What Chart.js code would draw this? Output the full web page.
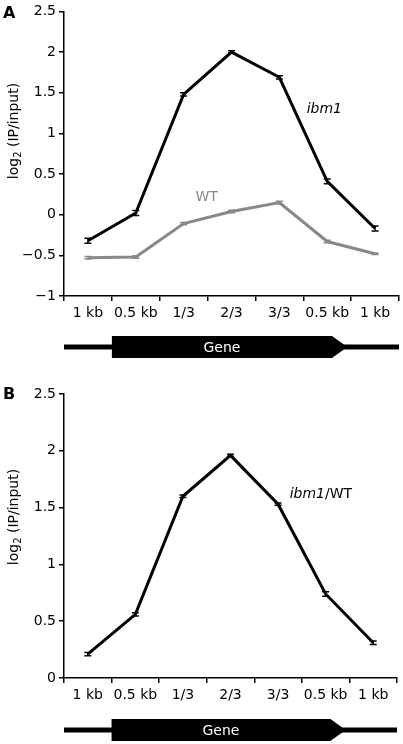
<!DOCTYPE html>
<html>
<head>
<meta charset="utf-8">
<script src="https://cdn.jsdelivr.net/npm/chart.js@4.4.0/dist/chart.umd.min.js"></script>
<style>
  html, body { margin: 0; padding: 0; background: #fff; }
  body { width: 403px; height: 744px; position: relative; overflow: hidden; }
  .panel { position: absolute; left: 0; width: 403px; height: 372px; }
  #pa { top: 0; }
  #pb { top: 372px; }
</style>
</head>
<body>
<div class="panel" id="pa"><canvas id="ca"></canvas></div>
<div class="panel" id="pb"><canvas id="cb"></canvas></div>
<script>
// ---- data ----
const categories = ['1 kb', '0.5 kb', '1/3', '2/3', '3/3', '0.5 kb', '1 kb'];
const ibm1 = [-0.32, 0.02, 1.48, 2.00, 1.69, 0.41, -0.17];
const ibm1Err = [0.03, 0.03, 0.02, 0.015, 0.02, 0.03, 0.03];
const wt = [-0.53, -0.52, -0.11, 0.04, 0.15, -0.33, -0.48];
const wtErr = [0.015, 0.015, 0.015, 0.015, 0.015, 0.015, 0.01];
const ratio = [0.21, 0.56, 1.60, 1.96, 1.53, 0.74, 0.31];
const ratioErr = [0.015, 0.015, 0.01, 0.01, 0.01, 0.02, 0.015];
const yTicksA = [-1, -0.5, 0, 0.5, 1, 1.5, 2, 2.5];
const yTicksB = [0, 0.5, 1, 1.5, 2, 2.5];

const FONT = 'DejaVu Sans';
const fmt = v => String(v).replace('-', '\u2212');

function errorBarPlugin() {
  return {
    id: 'errbars',
    afterDatasetsDraw(chart) {
      const ctx = chart.ctx, x = chart.scales.x, y = chart.scales.y;
      chart.data.datasets.forEach(ds => {
        if (!ds.errors) return;
        ctx.save();
        ctx.strokeStyle = ds.borderColor;
        ctx.lineWidth = 1.5;
        ds.data.forEach((v, i) => {
          const px = x.getPixelForValue(i);
          const y1 = y.getPixelForValue(v - ds.errors[i]);
          const y2 = y.getPixelForValue(v + ds.errors[i]);
          ctx.beginPath();
          ctx.moveTo(px, y1); ctx.lineTo(px, y2);
          ctx.moveTo(px - 3.5, y1); ctx.lineTo(px + 3.5, y1);
          ctx.moveTo(px - 3.5, y2); ctx.lineTo(px + 3.5, y2);
          ctx.stroke();
        });
        ctx.restore();
      });
    }
  };
}

function decorPlugin(opts) {
  return {
    id: 'decor',
    afterDraw(chart) {
      const ctx = chart.ctx, x = chart.scales.x, y = chart.scales.y, ca = chart.chartArea;
      ctx.save();
      // panel letter
      ctx.fillStyle = '#000';
      ctx.font = 'bold 16px ' + FONT;
      ctx.textAlign = 'left';
      ctx.textBaseline = 'middle';
      ctx.fillText(opts.letter, 3, opts.letterY);
      // series labels (segments allow mixed italic / upright)
      opts.labels.forEach(l => {
        ctx.textBaseline = 'middle';
        ctx.textAlign = 'left';
        let total = 0;
        l.parts.forEach(p => {
          ctx.font = (p.italic ? 'italic ' : '') + '14px ' + FONT;
          p.w = ctx.measureText(p.text).width; total += p.w;
        });
        let cx = x.getPixelForValue(l.xv) - total / 2;
        const cy = y.getPixelForValue(l.yv);
        l.parts.forEach(p => {
          ctx.font = (p.italic ? 'italic ' : '') + '14px ' + FONT;
          ctx.fillStyle = l.color;
          ctx.fillText(p.text, cx, cy);
          cx += p.w;
        });
      });
      // y axis title with subscript
      ctx.save();
      ctx.translate(14, opts.titleY);
      ctx.rotate(-Math.PI / 2);
      ctx.fillStyle = '#000';
      ctx.textBaseline = 'middle';
      ctx.textAlign = 'left';
      const f1 = '14px ' + FONT, f2 = '10px ' + FONT;
      ctx.font = f1; const w1 = ctx.measureText('log').width;
      const w3 = ctx.measureText(' (IP/input)').width;
      ctx.font = f2; const w2 = ctx.measureText('2').width;
      const tot = w1 + w2 + w3;
      let tx = -tot / 2;
      ctx.font = f1; ctx.fillText('log', tx, 0); tx += w1;
      ctx.font = f2; ctx.fillText('2', tx, 4); tx += w2;
      ctx.font = f1; ctx.fillText(' (IP/input)', tx, 0);
      ctx.restore();
      // gene diagram
      const gy = opts.geneY, bh = opts.boxH;
      ctx.fillStyle = '#000';
      ctx.fillRect(ca.left, gy - 2.5, ca.right - ca.left, 5);
      const bx0 = x.getPixelForValue(0.5);
      const bx1 = x.getPixelForValue(5.1);
      const tip = x.getPixelForValue(5.42);
      ctx.beginPath();
      ctx.moveTo(bx0, gy - bh / 2);
      ctx.lineTo(bx1, gy - bh / 2);
      ctx.lineTo(tip, gy);
      ctx.lineTo(bx1, gy + bh / 2);
      ctx.lineTo(bx0, gy + bh / 2);
      ctx.closePath();
      ctx.fill();
      ctx.fillStyle = '#fff';
      ctx.font = '14px ' + FONT;
      ctx.textAlign = 'center';
      ctx.textBaseline = 'middle';
      ctx.fillText('Gene', (bx0 + bx1) / 2, gy + 1);
      ctx.restore();
    }
  };
}

function makeChart(id, datasets, yMin, yMax, yTicks, pad, xHeight, decor) {
  return new Chart(document.getElementById(id), {
    type: 'line',
    data: { labels: categories, datasets },
    options: {
      responsive: true,
      maintainAspectRatio: false,
      animation: false,
      events: [],
      layout: { padding: pad },
      plugins: { legend: { display: false }, tooltip: { enabled: false } },
      elements: { point: { radius: 0 }, line: { borderWidth: 3, tension: 0, borderJoinStyle: 'miter' } },
      scales: {
        x: {
          type: 'category',
          offset: true,
          grid: { offset: true, drawOnChartArea: false, drawTicks: true, tickLength: 5, color: '#000', lineWidth: 1.5 },
          border: { display: true, color: '#000', width: 1.5 },
          ticks: { color: '#000', font: { family: FONT, size: 14 }, padding: 4, maxRotation: 0, autoSkip: false },
          afterFit: s => { s.height = xHeight; }
        },
        y: {
          min: yMin, max: yMax,
          afterBuildTicks: s => { s.ticks = yTicks.map(v => ({ value: v })); },
          grid: { drawOnChartArea: false, drawTicks: true, tickLength: 5, color: '#000', lineWidth: 1.5 },
          border: { display: true, color: '#000', width: 1.5 },
          ticks: { color: '#000', font: { family: FONT, size: 14 }, padding: 3, callback: v => fmt(v) },
          afterFit: s => { s.width = 64; }
        }
      }
    },
    plugins: [errorBarPlugin(), decorPlugin(decor)]
  });
}

makeChart('ca', [
  { label: 'WT', data: wt, errors: wtErr, borderColor: '#888888', backgroundColor: '#888888' },
  { label: 'ibm1', data: ibm1, errors: ibm1Err, borderColor: '#000000', backgroundColor: '#000000' }
], -1, 2.5, yTicksA, { top: 10, right: 4, left: 0, bottom: 0 }, 76, {
  letter: 'A', letterY: 14, titleY: 131, geneY: 347, boxH: 22,
  labels: [
    { parts: [{ text: 'ibm1', italic: true }], color: '#000', xv: 4.94, yv: 1.30 },
    { parts: [{ text: 'WT', italic: false }], color: '#888888', xv: 2.48, yv: 0.21 }
  ]
});

makeChart('cb', [
  { label: 'ibm1/WT', data: ratio, errors: ratioErr, borderColor: '#000000', backgroundColor: '#000000' }
], 0, 2.5, yTicksB, { top: 22, right: 6, left: 0, bottom: 0 }, 66, {
  letter: 'B', letterY: 23, titleY: 145, geneY: 358, boxH: 22,
  labels: [
    { parts: [{ text: 'ibm1', italic: true }, { text: '/WT', italic: false }], color: '#000', xv: 4.9, yv: 1.62 }
  ]
});
</script>
</body>
</html>
